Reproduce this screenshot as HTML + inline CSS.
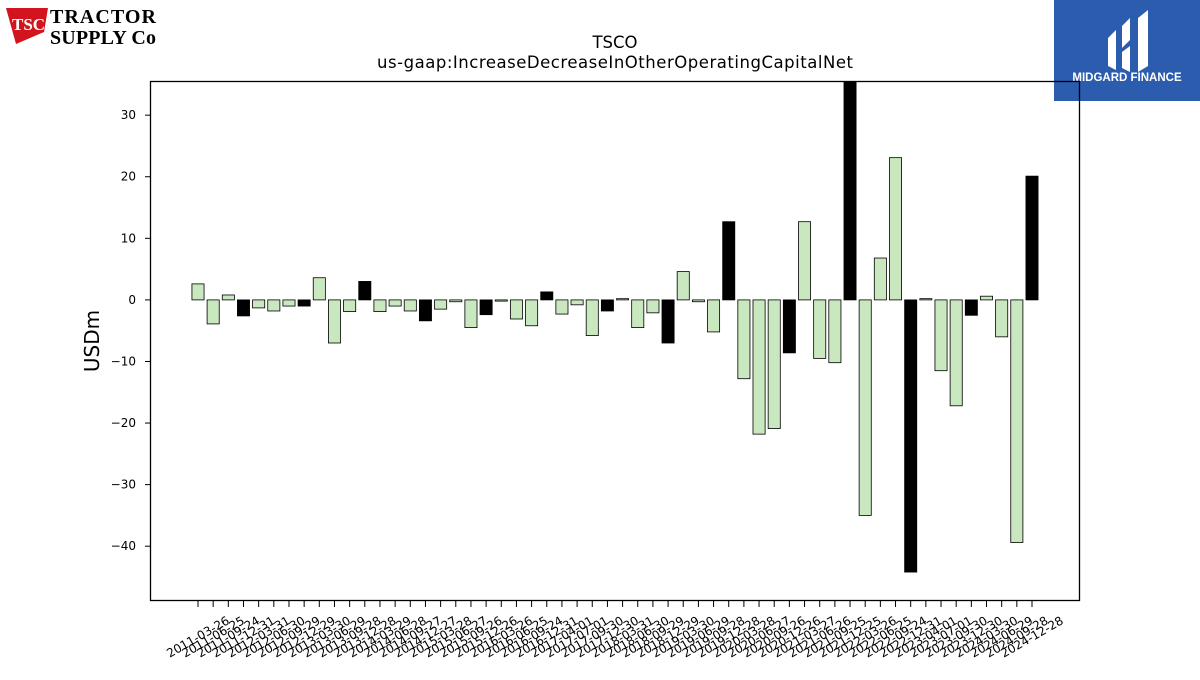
<!DOCTYPE html>
<html><head><meta charset="utf-8"><style>
body{margin:0;background:#fff;width:1200px;height:675px;overflow:hidden;font-family:"Liberation Sans","DejaVu Sans",sans-serif}
</style></head><body>
<svg id="chart" width="1200" height="675" xmlns="http://www.w3.org/2000/svg" font-family="'DejaVu Sans','Liberation Sans',sans-serif">
<g>
<polygon points="6,8 48,8 44,32 16,44" fill="#d2141e"/>
<text x="12" y="30" font-size="17" font-weight="bold" fill="#fff" font-family="'Liberation Serif',serif">TSC</text>
<text x="50" y="23" font-size="20" font-weight="bold" fill="#000" font-family="'Liberation Serif',serif" textLength="106">TRACTOR</text>
<text x="50" y="44" font-size="20" font-weight="bold" fill="#000" font-family="'Liberation Serif',serif" textLength="106">SUPPLY Co</text>
</g>
<g>
<rect x="1054" y="0" width="146" height="101" fill="#2b5cad"/>
<path d="M1108,38 L1116,30 L1116,70 L1108,66 Z M1122,26 L1130,18 L1130,40 L1122,48 Z M1138,18 L1148,10 L1148,66 L1138,72 Z M1122,52 L1130,46 L1130,72 L1122,68 Z" fill="#fff"/>
<text x="1127" y="81" font-size="11.5" font-weight="bold" fill="#fff" text-anchor="middle" font-family="'Liberation Sans',sans-serif">MIDGARD FINANCE</text>
</g>
<text x="615" y="48" font-size="16.5" text-anchor="middle">TSCO</text>
<text x="615" y="68" font-size="16.5" text-anchor="middle" textLength="476">us-gaap:IncreaseDecreaseInOtherOperatingCapitalNet</text>
<text transform="translate(99,341) rotate(-90)" font-size="20" text-anchor="middle">USDm</text>
<g id="plot"></g>
<rect x="150.5" y="81.5" width="929" height="519" fill="none" stroke="#000" stroke-width="1.3"/>
</svg>
<script>
const dates=["2011-03-26","2011-06-25","2011-09-24","2011-12-31","2012-03-31","2012-06-30","2012-09-29","2012-12-29","2013-03-30","2013-06-29","2013-09-28","2013-12-28","2014-03-29","2014-06-28","2014-09-27","2014-12-27","2015-03-28","2015-06-27","2015-09-26","2015-12-26","2016-03-26","2016-06-25","2016-09-24","2016-12-31","2017-04-01","2017-07-01","2017-09-30","2017-12-30","2018-03-31","2018-06-30","2018-09-29","2018-12-29","2019-03-30","2019-06-29","2019-09-28","2019-12-28","2020-03-28","2020-06-27","2020-09-26","2020-12-26","2021-03-27","2021-06-26","2021-09-25","2021-12-25","2022-03-26","2022-06-25","2022-09-24","2022-12-31","2023-04-01","2023-07-01","2023-09-30","2023-12-30","2024-03-30","2024-06-29","2024-09-28","2024-12-28"];
const values=[2.6,-3.9,0.8,-2.6,-1.3,-1.8,-1.0,-1.0,3.6,-7.0,-1.9,3.0,-1.9,-1.0,-1.8,-3.4,-1.5,-0.3,-4.5,-2.4,-0.2,-3.1,-4.2,1.3,-2.3,-0.8,-5.8,-1.8,0.2,-4.5,-2.1,-7.0,4.6,-0.3,-5.2,12.7,-12.8,-21.8,-20.9,-8.6,12.7,-9.5,-10.2,38,-35.0,6.8,23.1,-44.2,0.2,-11.5,-17.2,-2.5,0.6,-6.0,-39.4,20.1];
const yTicks=[-40,-30,-20,-10,0,10,20,30];
const yTickLabels=["\u221240","\u221230","\u221220","\u221210","0","10","20","30"];
const NS="http://www.w3.org/2000/svg";
const plot=document.getElementById('plot');
const L=150,R=1080,T=81,B=601,yMin=-48.9,yMax=35.55;
const y=v=>T+(yMax-v)/(yMax-yMin)*(B-T);
const step=(1032-198)/(dates.length-1);
const x=i=>198+i*step;
function mk(tag,attrs){const e=document.createElementNS(NS,tag);for(const k in attrs)e.setAttribute(k,attrs[k]);plot.appendChild(e);return e;}
const clip=mk('clipPath',{id:'clp'});
const cr=document.createElementNS(NS,'rect');cr.setAttribute('x',L);cr.setAttribute('y',T);cr.setAttribute('width',R-L);cr.setAttribute('height',B-T);clip.appendChild(cr);
const bw=step*0.8;
values.forEach((v,i)=>{
  const y0=y(0),y1=y(v);
  const r=mk('rect',{x:x(i)-bw/2,y:Math.min(y0,y1),width:bw,height:Math.abs(y1-y0),fill:(i%4===3)?'#000':'#c9e8c0',stroke:'#000','stroke-width':0.8,'clip-path':'url(#clp)'});
  
  
});
yTicks.forEach((t,i)=>{
  const yy=y(t);
  const l=mk('line',{x1:L-5,x2:L,y1:yy,y2:yy,stroke:'#000','stroke-width':1});
  
  
  const tx=mk('text',{x:L-14,y:yy+4,'font-size':12,'text-anchor':'end'});
  tx.textContent=yTickLabels[i];
  
  
});
dates.forEach((d,i)=>{
  const xx=x(i);
  const l=mk('line',{x1:xx,x2:xx,y1:B,y2:B+6,stroke:'#000','stroke-width':1});
  
  
  const cy=B+36;
  const tx=mk('text',{x:xx,y:cy,'font-size':12,'text-anchor':'middle','dominant-baseline':'central',transform:`rotate(-30 ${xx} ${cy})`});
  tx.textContent=d;
  
  
});
</script>
</body></html>
